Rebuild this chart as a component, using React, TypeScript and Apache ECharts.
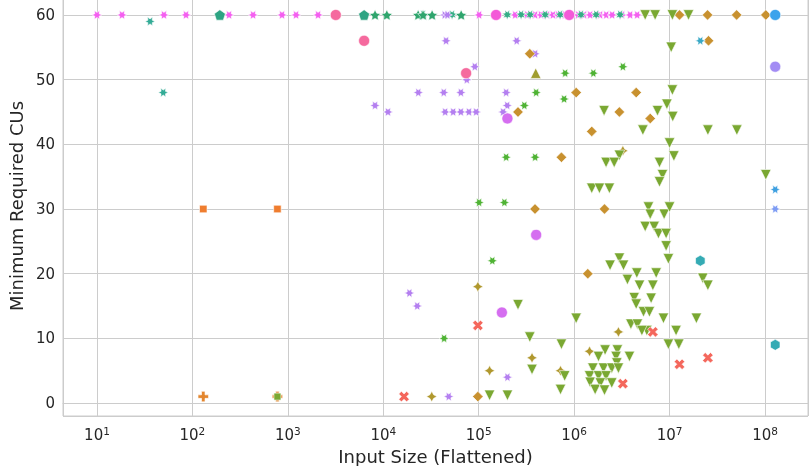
import React, { useEffect, useRef } from "react";
import * as echarts from "echarts";

// ---------------- data (x = input size, y = minimum required CUs) ----------------
const redXPoints: [number, number][] = [[1.65e4, 1], [9.8e4, 12], [3.24e6, 3], [1.27e7, 6], [2.52e7, 7], [6.68e6, 11]];
const orangeSquarePoints: [number, number][] = [[130, 30], [778, 30]];
const orangePlusPoints: [number, number][] = [[130, 1], [778, 1]];
const oliveSquarePoints: [number, number][] = [[778, 1]];
const goldDiamondPoints: [number, number][] = [
  [1.27e7, 60], [2.5e7, 60], [5.04e7, 60], [1.02e8, 60], [2.56e7, 56], [1.05e6, 48], [4.47e6, 48],
  [2.98e6, 45], [6.27e6, 44], [1.53e6, 42], [7.36e5, 38], [2.08e6, 30], [3.89e5, 30], [2.58e5, 45],
  [3.43e5, 54], [1.39e6, 20], [9.8e4, 1],
];
const oliveStar4Points: [number, number][] = [
  [9.8e4, 18], [1.3e5, 5], [3.62e5, 7], [3.22e4, 1], [2.91e6, 11], [1.45e6, 8], [7.2e5, 5], [3.24e6, 39],
];
const oliveTriUpPoints: [number, number][] = [[3.96e5, 51]];
const greenTriDownPoints: [number, number][] = [
  [5.55e6, 60], [7.06e6, 60], [1.07e7, 60], [1.58e7, 60], [1.04e7, 55], [1.07e7, 48.4], [2.06e6, 45.2],
  [7.47e6, 45.2], [9.37e6, 46.2], [1.08e7, 44.3], [5.25e6, 42.2], [2.52e7, 42.2], [5.07e7, 42.2],
  [1.0e7, 40.2], [1.11e7, 38.2], [2.98e6, 38.3], [2.16e6, 37.2], [2.63e6, 37.2], [7.84e6, 37.2],
  [8.43e6, 35.3], [7.84e6, 34.2], [1.02e8, 35.3], [1.53e6, 33.2], [1.84e6, 33.2], [2.34e6, 33.2],
  [6.01e6, 30.3], [6.27e6, 29.2], [8.77e6, 29.2], [1.0e7, 30.3], [5.55e6, 27.3], [6.9e6, 27.3],
  [7.65e6, 26.2], [9.2e6, 26.2], [9.2e6, 24.3], [2.98e6, 22.4], [9.72e6, 22.3], [2.38e6, 21.3],
  [3.29e6, 21.3], [4.54e6, 20.1], [7.24e6, 20.1], [3.62e6, 19.1], [4.84e6, 18.2], [6.68e6, 18.2],
  [2.23e7, 19.3], [2.52e7, 18.2], [4.26e6, 16.3], [6.41e6, 16.2], [4.47e6, 15.3], [5.33e6, 14.1],
  [6.15e6, 14.1], [8.63e6, 13.1], [1.91e7, 13.1], [1.05e6, 13.1], [3.93e6, 12.2], [4.6e6, 12.2],
  [5.78e6, 11.2], [5.13e6, 11.2], [1.17e7, 11.2], [9.72e6, 9.1], [1.25e7, 9.1], [7.36e5, 9.1],
  [2.11e6, 8.2], [2.84e6, 8.2], [1.8e6, 7.2], [2.75e6, 7.2], [3.8e6, 7.2], [2.8e6, 6.2], [1.57e6, 5.4],
  [2.03e6, 5.4], [2.48e6, 5.4], [2.91e6, 5.4], [7.96e5, 4.2], [1.45e6, 4.2], [1.8e6, 4.2], [2.16e6, 4.2],
  [1.47e6, 3.2], [1.88e6, 3.1], [2.48e6, 3.1], [1.66e6, 2.1], [2.08e6, 2.0], [7.2e5, 2.1], [2.58e5, 15.2],
  [3.43e5, 10.2], [3.62e5, 5.2], [1.3e5, 1.2], [2.0e5, 1.2],
];
const brightGreenStarPoints: [number, number][] = [
  [8.05e5, 51], [1.59e6, 51], [3.24e6, 52], [7.85e5, 47], [3.01e5, 46], [4.0e5, 48], [1.94e5, 38],
  [3.9e5, 38], [1.01e5, 31], [1.86e5, 31], [1.39e5, 22], [4.34e4, 10],
];
const green5StarPoints: [number, number][] = [[8.2e3, 60], [1.09e4, 60], [2.32e4, 60], [2.61e4, 60], [3.25e4, 60], [6.55e4, 60]];
const green7StarPoints: [number, number][] = [
  [2.61e4, 60], [5.26e4, 60], [1.99e5, 60], [2.78e5, 60], [3.46e5, 60], [4.97e5, 60], [7.13e5, 60],
  [1.18e6, 60], [1.7e6, 60], [3.03e6, 60],
];
const greenPentagonPoints: [number, number][] = [[194, 60], [6.3e3, 60]];
const tealStarPoints: [number, number][] = [[36, 59], [49.5, 48]];
const tealHexPoints: [number, number][] = [[2.1e7, 22], [1.28e8, 9]];
const cyanStarPoints: [number, number][] = [[2.1e7, 56]];
const blueCirclePoints: [number, number][] = [[1.28e8, 60]];
const lavenderCirclePoints: [number, number][] = [[1.28e8, 52]];
const blueStarPoints: [number, number][] = [[1.28e8, 33]];
const periwinkleStarPoints: [number, number][] = [[1.28e8, 30]];
const purpleStarPoints: [number, number][] = [
  [4.55e4, 56], [2.5e5, 56], [3.9e5, 54], [9.1e4, 52], [7.5e4, 50], [2.33e4, 48], [4.3e4, 48], [6.5e4, 48],
  [1.94e5, 48], [8.2e3, 46], [1.12e4, 45], [4.45e4, 45], [5.4e4, 45], [6.5e4, 45], [7.9e4, 45], [9.4e4, 45],
  [1.99e5, 46], [1.8e5, 45], [1.88e4, 17], [2.27e4, 15], [2.0e5, 4], [4.85e4, 1], [4.4e4, 60], [4.7e4, 60],
];
const magentaStarPoints: [number, number][] = [
  [10, 60], [18.3, 60], [50.3, 60], [85.7, 60], [242, 60], [432, 60], [869, 60], [1219, 60], [2074, 60],
  [1.01e5, 60], [2.41e5, 60], [3.22e5, 60], [3.9e5, 60], [4.5e5, 60], [5.2e5, 60], [6.0e5, 60], [6.8e5, 60],
  [8.05e5, 60], [1.1e6, 60], [1.27e6, 60], [1.47e6, 60], [1.87e6, 60], [2.17e6, 60], [2.5e6, 60],
  [3.18e6, 60], [3.86e6, 60], [4.57e6, 60],
];
const pinkCirclePoints: [number, number][] = [[3.18e3, 60], [6.3e3, 56], [7.38e4, 51]];
const magentaCirclePoints: [number, number][] = [[1.52e5, 60], [8.87e5, 60]];
const violetCirclePoints: [number, number][] = [[1.75e5, 14], [4.0e5, 26], [2.0e5, 44]];

const xTitle = "Input Size (Flattened)";
const yTitle = "Minimum Required CUs";

// ---------------- marker shapes ----------------
function polySym(pts: number[][]): string {
  return (
    "path://M" +
    pts.map((p) => `${(50 + 50 * p[0]).toFixed(2)},${(50 - 50 * p[1]).toFixed(2)}`).join("L") +
    "Z"
  );
}
function starSym(n: number, inner: number, rotDeg: number): string {
  const pts: number[][] = [];
  const m = inner > 0 ? 2 * n : n;
  const step = inner > 0 ? 180 / n : 360 / n;
  for (let i = 0; i < m; i++) {
    const r = inner > 0 && i % 2 === 1 ? inner : 1;
    const a = ((90 + rotDeg + i * step) * Math.PI) / 180;
    pts.push([r * Math.cos(a), r * Math.sin(a)]);
  }
  return polySym(pts);
}
const X_SYM = polySym(
  [[-1, -2], [0, -1], [1, -2], [2, -1], [1, 0], [2, 1], [1, 2], [0, 1], [-1, 2], [-2, 1], [-1, 0], [-2, -1]].map((p) => [p[0] / 2, p[1] / 2])
);
const PLUS_SYM = polySym(
  [[-1, -3], [1, -3], [1, -1], [3, -1], [3, 1], [1, 1], [1, 3], [-1, 3], [-1, 1], [-3, 1], [-3, -1], [-1, -1]].map((p) => [p[0] / 3, p[1] / 3])
);
const TRI_DOWN = "path://M0,0L100,0L50,100Z";
const TRI_UP = "path://M50,0L100,100L0,100Z";
const STAR6 = starSym(6, 0.5, 30);
const STAR5 = starSym(5, 0.5, 0);
const STAR7 = starSym(7, 0.5, 360 / 14);
const STAR4 = starSym(4, 0.5, 0);
const HEX = starSym(6, 0, 0);
const PENT = starSym(5, 0, 0);

const FONT = "DejaVu Sans";
const TXT = "#262626";
const GRID = "#cccccc";

function sc(data: [number, number][], symbol: string, size: number | number[], color: string, z = 2) {
  return {
    type: "scatter",
    data,
    symbol,
    symbolSize: size,
    symbolKeepAspect: true,
    z,
    itemStyle: { color, borderColor: "#ffffff", borderWidth: 0.6, opacity: 1 },
    emphasis: { disabled: true },
  };
}

export default function App() {
  const ref = useRef<HTMLDivElement>(null);
  useEffect(() => {
    if (!ref.current) return;
    const chart = echarts.init(ref.current, null, { renderer: "svg" });
    chart.setOption({
      animation: false,
      textStyle: { fontFamily: FONT },
      grid: {
        left: 63,
        right: 4,
        top: -4,
        bottom: 50,
        show: true,
        borderColor: GRID,
        borderWidth: 1,
        containLabel: false,
        outerBoundsMode: "none",
      },
      xAxis: {
        type: "log",
        logBase: 10,
        min: 4.406,
        max: 2.822e8,
        name: xTitle,
        nameLocation: "middle",
        nameGap: 27,
        nameTextStyle: { fontSize: 18, color: TXT, fontFamily: FONT },
        axisLine: { show: true, lineStyle: { color: GRID, width: 1 } },
        axisTick: { show: false },
        splitLine: { show: true, lineStyle: { color: GRID, width: 1 } },
        axisLabel: {
          margin: 9,
          color: TXT,
          showMinLabel: false,
          showMaxLabel: false,
          formatter: (v: number) => {
            const e = Math.log10(v);
            const r = Math.round(e);
            if (Math.abs(e - r) > 1e-6) return "";
            return `{b|10}{s|${r}}`;
          },
          rich: {
            b: { fontSize: 15, color: TXT, fontFamily: FONT, lineHeight: 20 },
            s: { fontSize: 10.5, color: TXT, fontFamily: FONT, verticalAlign: "top", lineHeight: 20 },
          },
        },
      },
      yAxis: {
        type: "value",
        min: -2,
        max: 62.93,
        name: yTitle,
        nameLocation: "middle",
        nameGap: 33,
        nameTextStyle: { fontSize: 18, color: TXT, fontFamily: FONT },
        axisLine: { show: true, lineStyle: { color: GRID, width: 1 } },
        axisTick: { show: false },
        splitLine: { show: true, lineStyle: { color: GRID, width: 1 } },
        axisLabel: {
          margin: 8,
          fontSize: 15,
          color: TXT,
          fontFamily: FONT,
          showMinLabel: false,
          showMaxLabel: false,
          formatter: (v: number) => (Math.abs(v % 10) < 1e-9 ? String(v) : ""),
        },
      },
      series: [
        sc(magentaStarPoints, STAR6, 10, "#f45ff0"),
        sc(green7StarPoints, STAR7, 10, "#35ad86"),
        sc(purpleStarPoints, STAR6, 10, "#b47ff0"),
        sc(green5StarPoints, STAR5, 11, "#2fa56d"),
        sc(greenPentagonPoints, PENT, 11, "#2ea483"),
        sc(tealStarPoints, STAR6, 10, "#33ab96"),
        sc(pinkCirclePoints, "circle", 11, "#f56a9e"),
        sc(magentaCirclePoints, "circle", 11, "#f45ad8"),
        sc(violetCirclePoints, "circle", 11, "#d56ef0"),
        sc(orangeSquarePoints, "rect", 7.5, "#ef7d2f"),
        sc(orangePlusPoints, PLUS_SYM, 10.5, "#e3862e"),
        sc(oliveSquarePoints, "rect", 7, "#7aa832"),
        sc(brightGreenStarPoints, STAR6, 10, "#4fb334"),
        sc(goldDiamondPoints, "diamond", 10.5, "#c8912f"),
        sc(oliveStar4Points, STAR4, 10.5, "#b0982e"),
        sc(oliveTriUpPoints, TRI_UP, 10.5, "#a09d2f"),
        sc(greenTriDownPoints, TRI_DOWN, 10.5, "#7aa832"),
        sc(redXPoints, X_SYM, 10.5, "#f4675c"),
        sc(tealHexPoints, HEX, 11, "#35abb4"),
        sc(cyanStarPoints, STAR6, 10, "#3aa9c6"),
        sc(blueCirclePoints, "circle", 11, "#3ba3ec"),
        sc(lavenderCirclePoints, "circle", 11, "#a38cf4"),
        sc(blueStarPoints, STAR6, 10, "#3d9fe0"),
        sc(periwinkleStarPoints, STAR6, 10, "#7d9cf4"),
      ],
    });
    return () => chart.dispose();
  }, []);
  return <div ref={ref} style={{ position: "fixed", left: 0, top: 0, width: 812, height: 466 }} />;
}
